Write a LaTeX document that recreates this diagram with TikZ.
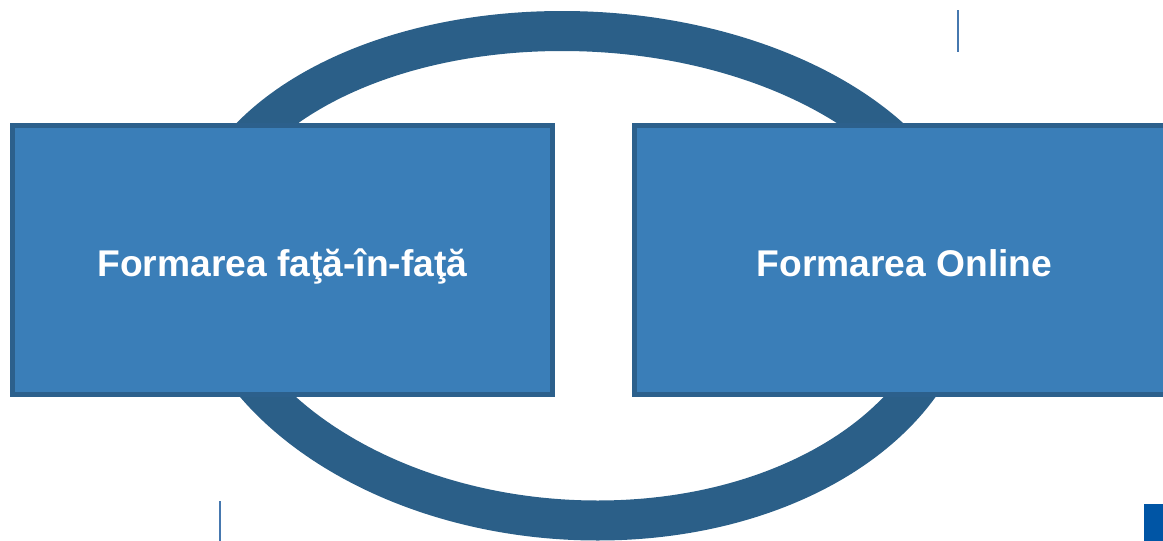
\documentclass[tikz,border=0pt]{standalone}
\usepackage{fontspec}
\setmainfont{Liberation Sans}
\definecolor{ringblue}{RGB}{43,95,136}
\definecolor{boxblue}{RGB}{58,126,184}
\definecolor{edgeblue}{RGB}{44,96,140}
\definecolor{markblue}{RGB}{70,120,175}
\definecolor{cornerblue}{RGB}{0,85,165}
\begin{document}
\begin{tikzpicture}[x=0.5pt,y=-0.5pt]
\tikzstyle{idea} = [
 draw=edgeblue,
 fill=boxblue,
 line width=2.5pt,
 minimum width=270pt,
 minimum height=134.5pt,
 text height=16pt,
 text depth=0pt,
 text=white,
 font=\fontsize{18.6pt}{22pt}\selectfont\bfseries
]
\useasboundingbox (0,0) rectangle (1163,541);
% ring behind the two boxes
\begin{scope}[shift={(578.75,260)},xslant=-0.0727]
\draw[ringblue,line width=20pt] (-378,0)
  arc[start angle=180,end angle=360,x radius=378,y radius=229]
  arc[start angle=0,end angle=180,x radius=378,y radius=260.5] -- cycle;
\end{scope}
\node[idea] at (282.5,260) (f) {Formarea faţă-în-faţă};
\node[idea] at (904.5,260) (o) {Formarea Online};
% small marks
\coordinate (m1a) at (958,10);
\coordinate (m1b) at (958,52);
\coordinate (m2a) at (220,501);
\coordinate (m2b) at (220,541);
\draw[markblue,line width=1pt] (m1a) -- (m1b);
\draw[markblue,line width=1pt] (m2a) -- (m2b);
\fill[cornerblue] (1144,504) rectangle (1163,541);
\end{tikzpicture}
\end{document}
